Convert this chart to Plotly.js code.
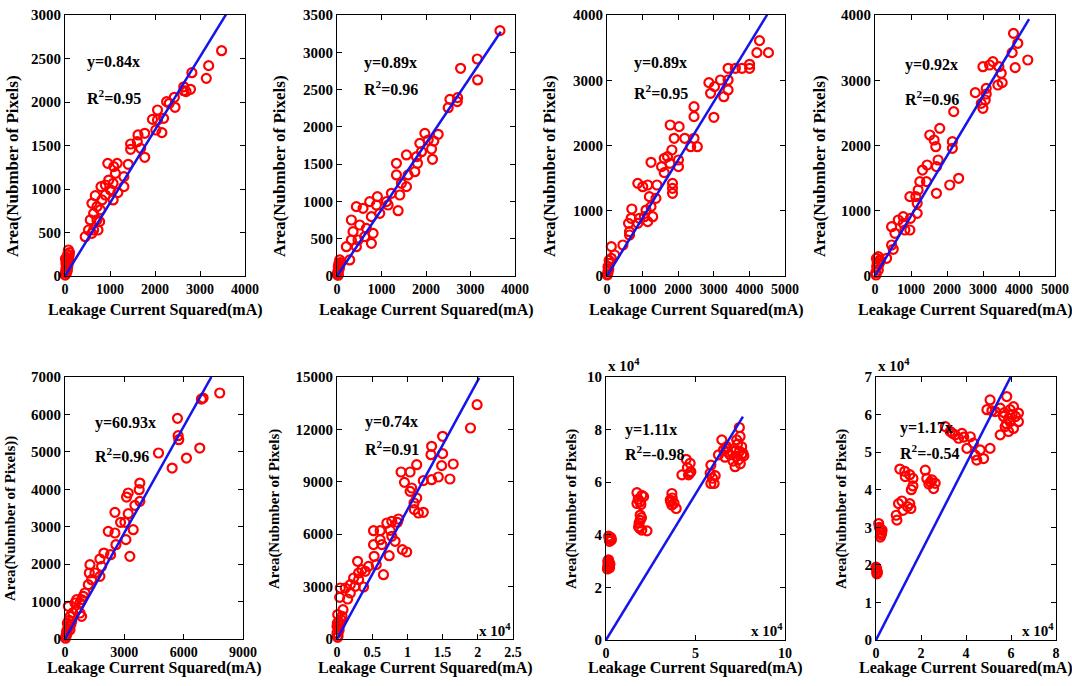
<!DOCTYPE html>
<html>
<head>
<meta charset="utf-8">
<script src="https://cdn.plot.ly/plotly-3.0.1.min.js"></script>
<style>
body { margin: 0; background: white; }
#chart { width: 1072px; height: 686px; }
</style>
</head>
<body>
<div id="chart"></div>
<script>
// Data (x = leakage current squared, y = area in pixels)

let p1x = [3480, 3192, 3140, 2819, 2789, 2640, 2640, 2690, 2430, 2318, 2445, 2258, 2056, 2056, 2191, 2153, 1944, 2019, 1772, 1622, 1607, 1682, 1772, 1458, 1458, 1405, 1308, 1308, 1174, 1121, 1159, 950, 1084, 972, 897, 1069, 800, 897, 1009, 1069, 822, 710, 785, 770, 636, 673, 598, 561, 733, 710, 523, 449, 636, 598, 75, 60, 50, 40, 30, 20, 10, 5, 50, 80, 70, 60, 40, 30, 20, 10, 90, 100];
let p1y = [2590, 2418, 2272, 2337, 2146, 2130, 2175, 2120, 2054, 1985, 1939, 2004, 1908, 1793, 1812, 1648, 1800, 1678, 1640, 1621, 1544, 1467, 1364, 1517, 1456, 1284, 1142, 1027, 958, 1180, 1295, 1295, 1257, 1103, 1046, 1065, 1027, 931, 989, 874, 874, 797, 759, 625, 720, 923, 835, 644, 529, 644, 529, 452, 529, 490, 299, 250, 210, 170, 120, 80, 40, 10, 60, 180, 140, 100, 60, 30, 150, 200, 230, 270];

let p2x = [3662, 3152, 3160, 2777, 2702, 2710, 2537, 2499, 2274, 2176, 2124, 2146, 1899, 1861, 2049, 1974, 1336, 1336, 1561, 1786, 1809, 1749, 1598, 1561, 1448, 1411, 1223, 1111, 1148, 1373, 886, 908, 735, 961, 773, 585, 435, 660, 510, 360, 473, 773, 323, 323, 435, 210, 285, 623, 811, 10, 20, 30, 40, 60, 50, 15, 70, 40, 25, 60, 30];
let p2y = [3290, 2910, 2629, 2785, 2338, 2392, 2369, 2257, 1900, 1810, 1703, 1565, 1667, 1779, 1824, 1913, 1511, 1355, 1623, 1600, 1511, 1399, 1355, 1198, 1243, 1086, 1109, 997, 952, 876, 952, 1064, 997, 840, 796, 907, 930, 639, 684, 595, 483, 438, 751, 483, 393, 393, 215, 528, 572, 15, 60, 125, 160, 215, 100, 30, 180, 90, 45, 140, 10];

let p3x = [4284, 4535, 4210, 4005, 4005, 3792, 3606, 3401, 3401, 3401, 3281, 3188, 3020, 2909, 2862, 3002, 2444, 2444, 2444, 2537, 2351, 2184, 1887, 2026, 1775, 2007, 2007, 1822, 1701, 1766, 1608, 1533, 1608, 1236, 1840, 1840, 1840, 1143, 1403, 864, 1004, 1375, 1190, 1236, 1283, 1143, 1097, 1050, 678, 697, 864, 911, 604, 632, 632, 446, 121, 214, 121, 28, 28, 9, 74, 50, 20, 40, 60];
let p3y = [3607, 3423, 3423, 3244, 3183, 3183, 3183, 3183, 3004, 2851, 2748, 3004, 2902, 2800, 2963, 2432, 2595, 2442, 2110, 1982, 1982, 2110, 2110, 2289, 2314, 1778, 1676, 1931, 1829, 1727, 1803, 1676, 1584, 1742, 1420, 1267, 1344, 1395, 1395, 1420, 1369, 1190, 1216, 1063, 909, 833, 1011, 909, 884, 1027, 807, 884, 807, 679, 628, 475, 450, 322, 271, 143, 66, 15, 194, 110, 30, 90, 240];

let p4x = [3847, 3967, 3810, 4244, 3893, 3275, 3183, 2998, 3441, 3506, 3533, 3413, 3090, 3090, 2786, 2952, 2998, 3063, 2186, 2149, 2149, 1799, 1522, 1642, 1688, 2325, 2076, 1753, 1707, 1448, 1319, 1430, 1245, 1707, 1199, 1135, 969, 1172, 1172, 987, 969, 784, 784, 646, 553, 461, 461, 507, 830, 323, 92, 138, 46, 92, 28, 60, 20, 110, 40, 150];
let p4y = [3719, 3566, 3423, 3310, 3193, 3285, 3234, 3208, 3208, 3106, 2963, 2927, 2876, 2789, 2810, 2646, 2570, 2697, 2519, 2059, 1957, 2263, 2161, 2084, 1982, 1497, 1395, 1778, 1676, 1701, 1624, 1446, 1446, 1267, 1318, 1216, 1216, 1114, 960, 884, 705, 909, 807, 858, 654, 756, 475, 409, 705, 271, 296, 245, 143, 92, 15, 200, 50, 180, 270, 230];

let p5x = [7823, 6982, 6898, 6813, 6141, 5686, 5720, 5753, 5417, 4727, 3784, 3751, 3784, 3532, 3448, 3196, 3196, 3112, 3280, 3028, 3079, 2809, 2524, 2524, 2574, 2187, 2305, 1968, 1766, 1850, 1766, 1262, 1514, 1228, 1346, 1178, 925, 841, 1009, 757, 589, 505, 589, 841, 757, 252, 168, 336, 168, 84, 50, 252, 100, 300, 400, 200, 30, 60, 150, 250, 120];
let p5y = [6572, 6438, 6411, 5102, 4835, 5895, 5432, 5325, 4568, 4969, 4167, 3989, 3678, 3571, 2921, 3348, 3901, 3793, 2208, 3117, 2654, 3117, 3384, 2832, 2520, 2876, 2253, 2297, 2137, 1941, 1674, 1986, 1763, 1763, 1585, 1451, 1140, 1051, 1229, 962, 1051, 962, 784, 605, 695, 605, 873, 472, 338, 205, 71, 249, 150, 400, 700, 500, 20, 100, 280, 350, 420];

let p6x = [19900, 18960, 15000, 13440, 13350, 15000, 14860, 16510, 16040, 14390, 13440, 12260, 11320, 10380, 9100, 9580, 10610, 10380, 11320, 10940, 10990, 11560, 12260, 9900, 9290, 8730, 8580, 7780, 7080, 7550, 7780, 8250, 7410, 6130, 5190, 6130, 6370, 5190, 5280, 5570, 6600, 4480, 4010, 3540, 2920, 3070, 2360, 3070, 3770, 2590, 1890, 1180, 1890, 1510, 470, 380, 850, 710, 240, 0, 0, 100, 570, 300, 150, 50, 200, 400, 100];
let p6y = [13416, 12080, 11603, 11031, 10553, 10611, 9924, 10019, 9160, 9275, 9122, 9065, 9981, 9561, 9561, 8969, 8645, 8454, 8073, 7786, 7405, 7214, 7252, 4981, 5115, 6870, 6679, 6737, 6641, 6221, 5878, 5592, 4771, 6202, 6202, 5687, 5401, 5401, 4733, 4256, 3683, 4160, 3874, 3969, 4447, 3779, 3492, 3397, 2977, 3015, 3111, 2920, 2634, 2290, 2920, 2385, 1679, 1298, 1011, 725, 344, 95, 1107, 500, 200, 900, 600, 800, 1400];

let p7x = [1000, 1500, 2000, 1200, 800, 1800, 1500, 2500, 2000, 3000, 1800, 1000, 1400, 2200, 1200, 2800, 17300, 20000, 17300, 19000, 21000, 18000, 19500, 19100, 19100, 18200, 22900, 20000, 18500, 19800, 18800, 36800, 35900, 36800, 39200, 37000, 36200, 38000, 42400, 44800, 47000, 47400, 46100, 45500, 46800, 58600, 58200, 58600, 60400, 59500, 61000, 64700, 62800, 65600, 67500, 69300, 66500, 68000, 67000, 74500, 73000, 74900, 75800, 72100, 75800, 72500, 74000, 75000, 76500, 71000, 73500, 72800, 74600, 77000];
let p7y = [30000, 28500, 27500, 29000, 27000, 29500, 39500, 39000, 37500, 38000, 38500, 28000, 30500, 28800, 27800, 38800, 56000, 55000, 51900, 52500, 54500, 53500, 51500, 47500, 45500, 43000, 41500, 41800, 44500, 46500, 42500, 55700, 53200, 51300, 50000, 54000, 52500, 52000, 62800, 68700, 67200, 64000, 62800, 65500, 63500, 66500, 63400, 59500, 59500, 61500, 62500, 76100, 70400, 72300, 73500, 70400, 69500, 71500, 72800, 80800, 76100, 77400, 73500, 65900, 70400, 72000, 68500, 67000, 71000, 68000, 74500, 69800, 71800, 70000];

let p8x = [0, 400, 400, 600, 200, 500, 1200, 1900, 2700, 1900, 2300, 1500, 2500, 9000, 9300, 10000, 11500, 15000, 15500, 14000, 12000, 10600, 12800, 15000, 16400, 16400, 15700, 13000, 21900, 22600, 24900, 26300, 25600, 23500, 24200, 30800, 33000, 35200, 36700, 38200, 39000, 34000, 41900, 40400, 43300, 44100, 46300, 44800, 47800, 50700, 50700, 49300, 51500, 53000, 58100, 55200, 56700, 59600, 61100, 63300, 63300, 59600, 57400, 55200, 58900, 61100, 58000, 60500, 59000, 57000, 62000];
let p8y = [19400, 18500, 17600, 18000, 19000, 17900, 31000, 29500, 29200, 27400, 28000, 30000, 28500, 33200, 31900, 36300, 37000, 36300, 35000, 35500, 34500, 45500, 44900, 44000, 43000, 41000, 40000, 43500, 45200, 43000, 42600, 41700, 40300, 41500, 42000, 56800, 55500, 54600, 53700, 55000, 54000, 55000, 54100, 51000, 52400, 49200, 50600, 47900, 48300, 51000, 63900, 61300, 61000, 60800, 64800, 61700, 59500, 61300, 62100, 60400, 58100, 58100, 56800, 54600, 55500, 56300, 57500, 60000, 59000, 60500, 59500];

let eqText = ['y=0.84x', 'y=0.89x', 'y=0.89x', 'y=0.92x', 'y=60.93x', 'y=0.74x', 'y=1.11x', 'y=1.17x'];
let r2Text = ['0.95', '0.96', '0.95', '0.96', '0.96', '0.91', '-0.98', '-0.54'];
// slope of the blue line as drawn, and where it stops
let fitSlope = [0.84, 0.89, 0.89, 0.92, 0.946, 0.74, 1.11, 1.17];
let fitEnd = [3600, 3680, 4500, 4280, 7400, 20200, 76500, 60000];

let xTitles = ['Leakage Current Squared(mA)', 'Leakage Current Squared(mA)', 'Leakage Current Squared(mA)', 'Leakage Current Squared(mA)',
               'Leakage Current Squared(mA)', 'Leakage Current Squared(mA)', 'Leakage Current Squared(mA)', 'Leakage Current Souared(mA)'];
let yTitles = ['Area(Nubmber of Pixels)', 'Area(Nubmber of Pixels)', 'Area(Nubmber of Pixels)', 'Area(Nubmber of Pixels)',
               'Area(Nubmber of Pixels))', 'Area(Nubmber of Pixels)', 'Area(Nubmber of Pixels)', 'Area(Nubmber of Pixels)'];

let xs = [p1x, p2x, p3x, p4x, p5x, p6x, p7x, p8x];
let ys = [p1y, p2y, p3y, p4y, p5y, p6y, p7y, p8y];

// Layout of the 8 panels (pixel boxes from the figure)
let W = 1072, H = 686;
let boxes = [
    [65, 245, 15, 276], [337, 515, 15, 276], [607, 785, 15, 276], [875, 1055, 15, 276],
    [65, 243, 377, 639], [337, 513, 377, 639], [606, 785, 377, 640], [876, 1056, 377, 640]
];

let axisSpec = [
    {xr: [0, 4000], xd: 1000, yr: [0, 3000], yd: 500},
    {xr: [0, 4000], xd: 1000, yr: [0, 3500], yd: 500},
    {xr: [0, 5000], xd: 1000, yr: [0, 4000], yd: 1000},
    {xr: [0, 5000], xd: 1000, yr: [0, 4000], yd: 1000},
    {xr: [0, 9000], xd: 3000, yr: [0, 7000], yd: 1000},
    {xr: [0, 25000], xv: [0, 5000, 10000, 15000, 20000, 25000], xt: ['0', '0.5', '1', '1.5', '2', '2.5'], yr: [0, 15000], yd: 3000},
    {xr: [0, 100000], xv: [0, 50000, 100000], xt: ['0', '5', '10'], yr: [0, 100000],
        yv: [0, 20000, 40000, 60000, 80000, 100000], yt: ['0', '2', '4', '6', '8', '10']},
    {xr: [0, 80000], xv: [0, 20000, 40000, 60000, 80000], xt: ['0', '2', '4', '6', '8'], yr: [0, 70000],
        yv: [0, 10000, 20000, 30000, 40000, 50000, 60000, 70000], yt: ['0', '1', '2', '3', '4', '5', '6', '7']}
];

let textX = [0.11, 0.14, 0.14, 0.155, 0.157, 0.148, 0.095, 0.122];
let eqY = [0.82, 0.816, 0.816, 0.808, 0.824, 0.828, 0.80, 0.806];
let r2Y = [0.686, 0.72, 0.705, 0.682, 0.702, 0.729, 0.71, 0.715];
let yTitleX = [13, 280, 550, 820, 10, 275, 572, 842];
let yTitleY = [166, 166, 166, 166, 519, 509, 509, 509];

let serif = 'Liberation Serif, Times New Roman, serif';

function baseAxis() {
    return {
        showline: true, mirror: 'ticks', linecolor: 'black', linewidth: 1,
        ticks: 'inside', ticklen: 5, tickcolor: 'black', tickwidth: 1,
        showgrid: false, zeroline: false, tickformat: 'd',
        tickfont: {family: serif, size: 15, color: 'black', weight: 'bold'}
    };
}

let data = [];
let layout = {
    width: W, height: H,
    margin: {l: 0, r: 0, t: 0, b: 0},
    paper_bgcolor: 'white', plot_bgcolor: 'white',
    showlegend: false,
    annotations: []
};

for (let i = 0; i < 8; i++) {
    let n = i === 0 ? '' : String(i + 1);
    let b = boxes[i];
    let s = axisSpec[i];

    let xa = baseAxis();
    xa.domain = [b[0] / W, b[1] / W];
    xa.range = s.xr;
    xa.anchor = 'y' + n;
    xa.tickfont.size = 14;
    if (s.xv) { xa.tickmode = 'array'; xa.tickvals = s.xv; xa.ticktext = s.xt; } else { xa.dtick = s.xd; }

    let ya = baseAxis();
    ya.domain = [1 - b[3] / H, 1 - b[2] / H];
    ya.range = s.yr;
    ya.anchor = 'x' + n;
    if (s.yv) { ya.tickmode = 'array'; ya.tickvals = s.yv; ya.ticktext = s.yt; } else { ya.dtick = s.yd; }

    layout['xaxis' + n] = xa;
    layout['yaxis' + n] = ya;

    data.push({
        type: 'scatter', mode: 'markers',
        x: xs[i], y: ys[i],
        xaxis: 'x' + n, yaxis: 'y' + n,
        marker: {symbol: 'circle-open', size: 9, color: 'rgb(255,0,0)', line: {width: 2.2, color: 'rgb(255,0,0)'}},
        cliponaxis: false
    });
    data.push({
        type: 'scatter', mode: 'lines',
        x: [0, fitEnd[i]], y: [0, fitSlope[i] * fitEnd[i]],
        xaxis: 'x' + n, yaxis: 'y' + n,
        line: {color: 'rgb(20,20,235)', width: 2.5}
    });

    let textFont = {family: serif, size: 16, color: 'black', weight: 'bold'};
    layout.annotations.push({
        xref: 'x' + n + ' domain', yref: 'y' + n + ' domain',
        x: textX[i], y: eqY[i], xanchor: 'left', yanchor: 'middle',
        text: eqText[i], showarrow: false, font: textFont
    });
    layout.annotations.push({
        xref: 'x' + n + ' domain', yref: 'y' + n + ' domain',
        x: textX[i], y: r2Y[i], xanchor: 'left', yanchor: 'middle',
        text: 'R<sup>2</sup>=' + r2Text[i], showarrow: false, font: textFont
    });

    // axis titles
    layout.annotations.push({
        xref: 'x' + n + ' domain', yref: 'paper',
        x: 0.5, y: i < 4 ? 1 - 310 / H : 1 - 668 / H, xanchor: 'center', yanchor: 'middle',
        text: xTitles[i], showarrow: false,
        font: {family: serif, size: 16, color: 'black', weight: 'bold'}
    });
    layout.annotations.push({
        xref: 'paper', yref: 'paper',
        x: yTitleX[i] / W, y: 1 - yTitleY[i] / H, xanchor: 'center', yanchor: 'middle',
        text: yTitles[i], textangle: -90, showarrow: false,
        font: {family: serif, size: i < 4 ? 17 : 15, color: 'black', weight: 'bold'}
    });

    // exponent labels
    let expFont = {family: serif, size: 15, color: 'black', weight: 'bold'};
    if (i >= 5) {
        layout.annotations.push({
            xref: 'x' + n + ' domain', yref: 'paper',
            x: 1, y: 1 - 630 / H, xanchor: 'right', yanchor: 'middle',
            text: 'x 10<sup>4</sup>', showarrow: false, font: expFont
        });
    }
    if (i >= 6) {
        layout.annotations.push({
            xref: 'x' + n + ' domain', yref: 'paper',
            x: 0, y: 1 - 365 / H, xanchor: 'left', yanchor: 'middle',
            text: 'x 10<sup>4</sup>', showarrow: false, font: expFont
        });
    }
}

Plotly.newPlot('chart', data, layout, {displayModeBar: false, responsive: false});
</script>
</body>
</html>
